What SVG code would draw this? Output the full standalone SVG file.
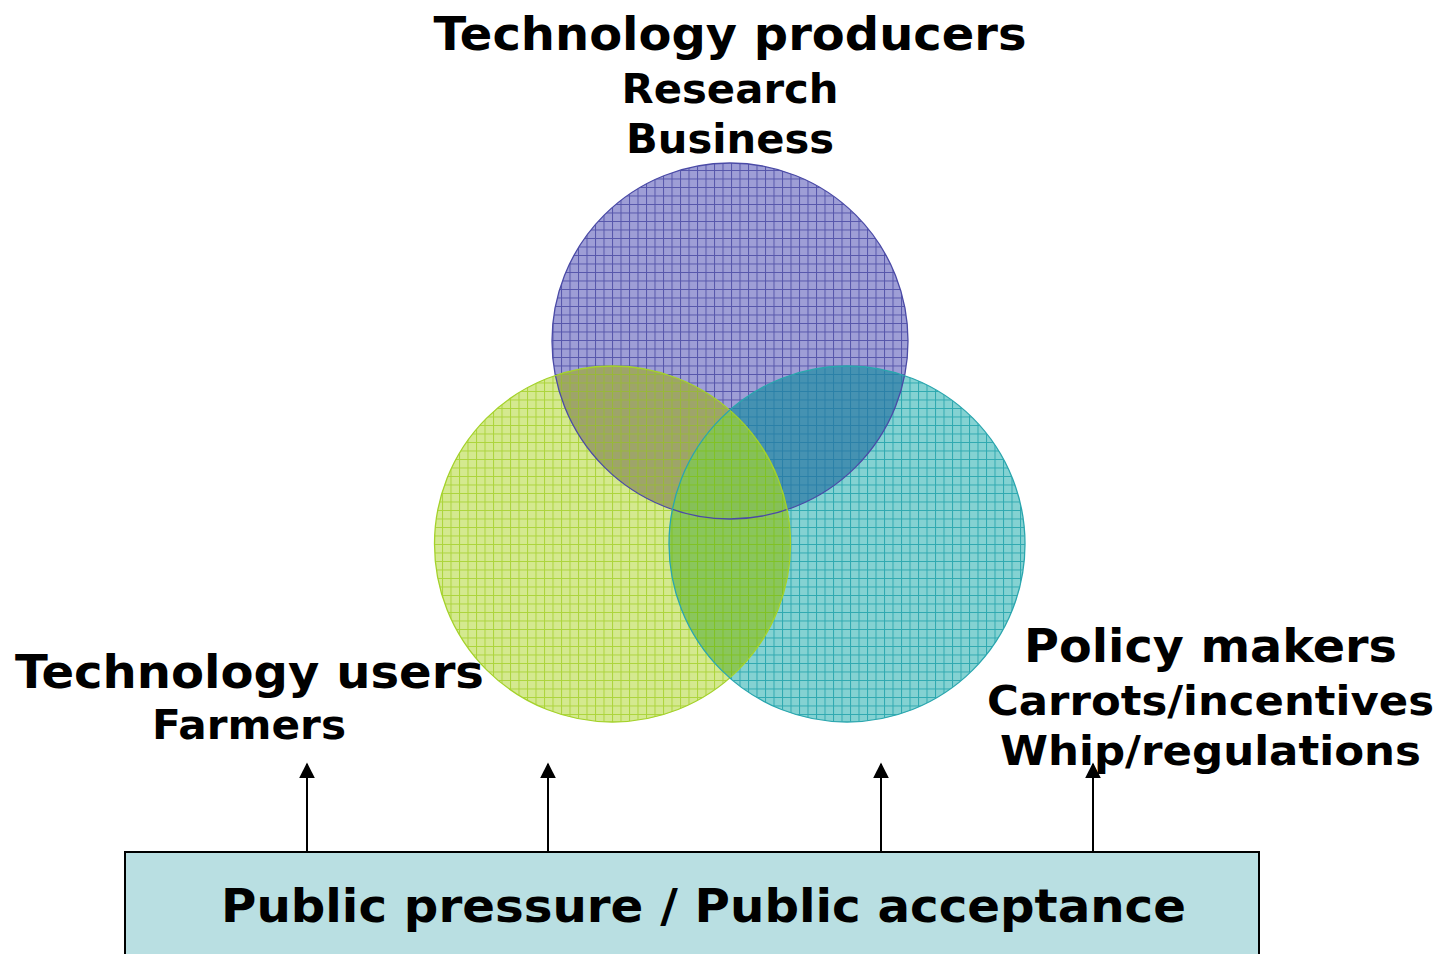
<svg xmlns="http://www.w3.org/2000/svg" width="1439" height="954" viewBox="0 0 1439 954">
<style>
text{font-family:"DejaVu Sans","Verdana",sans-serif;font-weight:bold;fill:#000;text-anchor:middle}
.big{font-size:47px}
.med{font-size:41px}
.conn line{stroke:#000;stroke-width:2}
.edge{fill:none;stroke-width:1.3}
</style>
<defs>
<pattern id="pB" patternUnits="userSpaceOnUse" width="8.5" height="8.5"><rect width="8.5" height="8.5" fill="#9e9ed6"/><path d="M0 0.5H8.5M0.5 0V8.5" stroke="#5656ab" stroke-width="1"/></pattern>
<pattern id="pG" patternUnits="userSpaceOnUse" width="8.5" height="8.5"><rect width="8.5" height="8.5" fill="#d4e98f"/><path d="M0 0.5H8.5M0.5 0V8.5" stroke="#acd43c" stroke-width="1"/></pattern>
<pattern id="pT" patternUnits="userSpaceOnUse" width="8.5" height="8.5"><rect width="8.5" height="8.5" fill="#84d2d2"/><path d="M0 0.5H8.5M0.5 0V8.5" stroke="#2fa9b0" stroke-width="1"/></pattern>
<pattern id="pBG" patternUnits="userSpaceOnUse" width="8.5" height="8.5"><rect width="8.5" height="8.5" fill="#9ea46a"/><path d="M0 0.5H8.5M0.5 0V8.5" stroke="#98b83a" stroke-width="1"/></pattern>
<pattern id="pBT" patternUnits="userSpaceOnUse" width="8.5" height="8.5"><rect width="8.5" height="8.5" fill="#4592b2"/><path d="M0 0.5H8.5M0.5 0V8.5" stroke="#2a80a8" stroke-width="1"/></pattern>
<pattern id="pGT" patternUnits="userSpaceOnUse" width="8.5" height="8.5"><rect width="8.5" height="8.5" fill="#8ac65c"/><path d="M0 0.5H8.5M0.5 0V8.5" stroke="#80c224" stroke-width="1"/></pattern>
<pattern id="pBGT" patternUnits="userSpaceOnUse" width="8.5" height="8.5"><rect width="8.5" height="8.5" fill="#86c058"/><path d="M0 0.5H8.5M0.5 0V8.5" stroke="#80c224" stroke-width="1"/></pattern>
<clipPath id="cB"><circle cx="730" cy="341" r="178"/></clipPath>
<clipPath id="cG"><circle cx="612.5" cy="544" r="178"/></clipPath>
<clipPath id="cT"><circle cx="847" cy="544" r="178"/></clipPath>
<marker id="ah" viewBox="0 0 10 10" refX="9" refY="5" markerWidth="8" markerHeight="8" orient="auto" markerUnits="strokeWidth"><path d="M0 0L10 5L0 10z" fill="#000"/></marker>
</defs>

<g id="producers">
<circle cx="730" cy="341" r="178" fill="url(#pB)"/>
</g>
<g id="users">
<circle cx="612.5" cy="544" r="178" fill="url(#pG)"/>
</g>
<g id="policy">
<circle cx="847" cy="544" r="178" fill="url(#pT)"/>
</g>
<g id="overlaps">
<g clip-path="url(#cB)"><circle cx="612.5" cy="544" r="178" fill="url(#pBG)"/></g>
<g clip-path="url(#cB)"><circle cx="847" cy="544" r="178" fill="url(#pBT)"/></g>
<g clip-path="url(#cG)"><circle cx="847" cy="544" r="178" fill="url(#pGT)"/></g>
<g clip-path="url(#cB)"><g clip-path="url(#cG)"><circle cx="847" cy="544" r="178" fill="url(#pBGT)"/></g></g>
<circle class="edge" cx="730" cy="341" r="178" stroke="#4a4aa6"/>
<circle class="edge" cx="612.5" cy="544" r="178" stroke="#a4d22a"/>
<circle class="edge" cx="847" cy="544" r="178" stroke="#2aa6ae"/>
</g>

<g id="producers-label">
<text class="big" x="730" y="50" textLength="593" lengthAdjust="spacingAndGlyphs">Technology producers</text>
<text class="med" x="730" y="103" textLength="217" lengthAdjust="spacingAndGlyphs">Research</text>
<text class="med" x="730" y="153" textLength="208" lengthAdjust="spacingAndGlyphs">Business</text>
</g>
<g id="users-label">
<text class="big" x="249.5" y="688" textLength="469" lengthAdjust="spacingAndGlyphs">Technology users</text>
<text class="med" x="249" y="739" textLength="194" lengthAdjust="spacingAndGlyphs">Farmers</text>
</g>
<g id="policy-label">
<text class="big" x="1210.5" y="662" textLength="373" lengthAdjust="spacingAndGlyphs">Policy makers</text>
<text class="med" x="1210.5" y="715" textLength="447" lengthAdjust="spacingAndGlyphs">Carrots/incentives</text>
<text class="med" x="1210.5" y="765" textLength="421" lengthAdjust="spacingAndGlyphs">Whip/regulations</text>
</g>

<g id="public">
<rect x="125" y="852" width="1134" height="110" fill="#b9dfe2" stroke="#000" stroke-width="2"/>
<text class="big" x="703.5" y="922" textLength="965" lengthAdjust="spacingAndGlyphs">Public pressure / Public acceptance</text>
</g>

<g id="connectors" class="conn">
<line x1="307" y1="852" x2="307" y2="764" marker-end="url(#ah)"/>
<line x1="548" y1="852" x2="548" y2="764" marker-end="url(#ah)"/>
<line x1="881" y1="852" x2="881" y2="764" marker-end="url(#ah)"/>
<line x1="1093" y1="852" x2="1093" y2="764" marker-end="url(#ah)"/>
</g>
</svg>
